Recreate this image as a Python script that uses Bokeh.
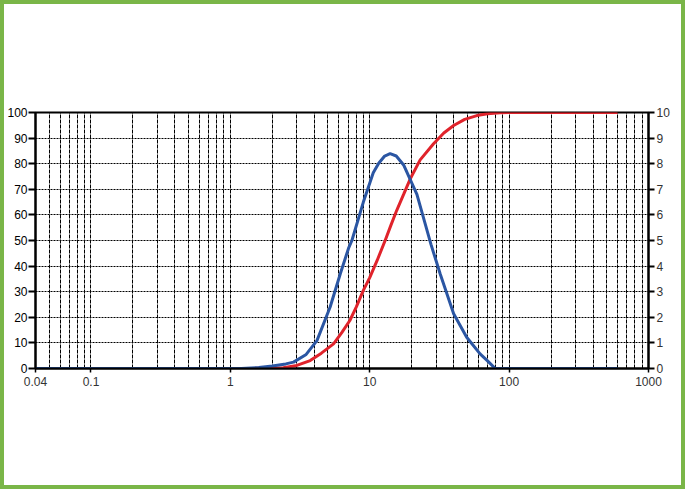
from bokeh.plotting import figure
from bokeh.models import Range1d, LinearAxis, FixedTicker, CustomJSTickFormatter
from bokeh.embed import file_html
from bokeh.resources import INLINE

# Particle size (µm) and curves
blue_x = [0.04, 1.0, 1.2, 1.6, 2.0, 2.5, 2.84, 3.5, 4.18, 5.2, 6.15, 7.05, 7.45, 9.0, 10.6,
          11.6, 12.8, 14.0, 15.5, 17.5, 21.8, 27.5, 32.0, 40.0, 49.6, 61.9, 70.0, 79.5, 600.0]
blue_y = [0, 0, 0.0, 0.04, 0.1, 0.18, 0.25, 0.55, 1.09, 2.4, 3.7, 4.7, 5.0, 6.5, 7.65,
          8.02, 8.3, 8.39, 8.3, 7.95, 6.8, 4.85, 3.7, 2.14, 1.22, 0.57, 0.3, 0.0, 0.0]

red_x = [0.04, 1.0, 1.5, 2.0, 2.4, 3.0, 3.74, 4.5, 5.5, 6.3, 7.2, 8.0, 9.0, 10.0, 11.3, 12.9,
         14.2, 15.6, 17.5, 19.5, 23.0, 28.7, 34.0, 40.0, 48.0, 58.7, 70.0, 86.0, 100.0, 600.0]
red_y = [0, 0, 0.05, 0.12, 0.3, 1.2, 3.1, 6.0, 9.6, 14.0, 18.75, 24.0, 30.5, 35.5, 42.2, 50.0,
         56.0, 61.7, 68.0, 74.0, 81.5, 87.8, 92.0, 94.9, 97.3, 98.8, 99.5, 99.9, 100.0, 100.0]

x_tick_values = [0.04, 0.1, 1, 10, 100, 1000]
left_ticks = [0, 10, 20, 30, 40, 50, 60, 70, 80, 90, 100]
right_ticks = [0, 1, 2, 3, 4, 5, 6, 7, 8, 9, 10]
grid_x = [0.05, 0.06, 0.07, 0.08, 0.09,
          0.1, 0.2, 0.3, 0.4, 0.5, 0.6, 0.7, 0.8, 0.9,
          1, 2, 3, 4, 5, 6, 7, 8, 9,
          10, 20, 30, 40, 50, 60, 70, 80, 90,
          100, 200, 300, 400, 500, 600, 700, 800, 900]

p = figure(width=685, height=489, x_axis_type="log",
           x_range=Range1d(0.04, 1000), y_range=Range1d(0, 100),
           output_backend="svg", toolbar_location=None,
           min_border_left=31, min_border_right=41,
           min_border_top=108, min_border_bottom=125)
p.styles = {"border": "4px solid #7ab648", "box-sizing": "border-box"}
p.extra_y_ranges = {"right": Range1d(0, 10)}
p.background_fill_color = "white"
p.border_fill_color = "white"
p.outline_line_color = "black"
p.outline_line_width = 2

# grids
p.xgrid.ticker = FixedTicker(ticks=grid_x)
p.xgrid.grid_line_color = "black"
p.xgrid.grid_line_dash = "4 1"
p.xgrid.grid_line_width = 1
p.ygrid.ticker = FixedTicker(ticks=left_ticks)
p.ygrid.grid_line_color = "black"
p.ygrid.grid_line_dash = "2 1"
p.ygrid.grid_line_width = 1

# bottom axis
xa = p.xaxis[0]
xa.ticker = FixedTicker(ticks=x_tick_values)
xa.formatter = CustomJSTickFormatter(code="return String(tick);")
xa.axis_line_color = "black"
xa.axis_line_width = 2
xa.major_tick_out = 4
xa.major_tick_in = 0
xa.major_tick_line_width = 1.5
xa.minor_tick_line_color = None
xa.major_label_text_font = "Liberation Sans"
xa.major_label_text_font_size = "12px"
xa.major_label_text_color = "#333333"
xa.major_label_standoff = 4

# left axis
ya = p.yaxis[0]
ya.ticker = FixedTicker(ticks=left_ticks)
ya.axis_line_color = "black"
ya.axis_line_width = 2
ya.major_tick_out = 7
ya.major_tick_in = 0
ya.major_tick_line_width = 2
ya.minor_tick_line_color = None
ya.major_label_text_font = "Liberation Sans"
ya.major_label_text_font_size = "12px"
ya.major_label_text_color = "black"
ya.major_label_standoff = 1

# right axis
ra = LinearAxis(y_range_name="right", ticker=FixedTicker(ticks=right_ticks))
ra.axis_line_color = "black"
ra.axis_line_width = 2
ra.major_tick_out = 6
ra.major_tick_in = 0
ra.major_tick_line_width = 2
ra.minor_tick_line_color = None
ra.major_label_text_font = "Liberation Sans"
ra.major_label_text_font_size = "12px"
ra.major_label_text_color = "#333333"
ra.major_label_standoff = 2
p.add_layout(ra, "right")

p.line(red_x, red_y, line_color="#e0232b", line_width=3)
p.line(blue_x, blue_y, y_range_name="right", line_color="#2b56a3", line_width=3)

open("out.html", "w").write(file_html(p, INLINE))
